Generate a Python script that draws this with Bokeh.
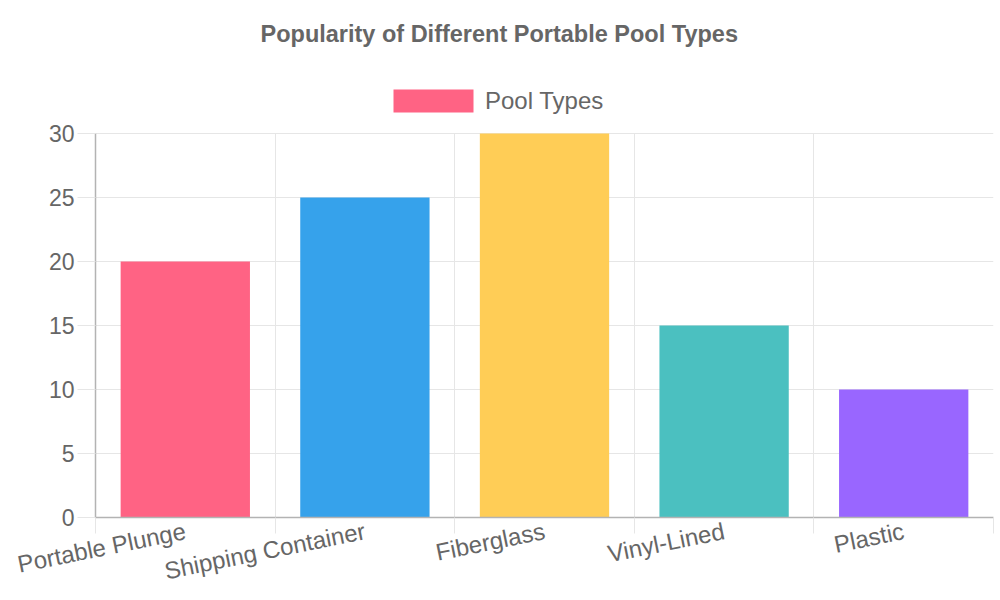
from bokeh.plotting import figure
from bokeh.models import (ColumnDataSource, Range1d, FixedTicker, Legend, LegendItem)
from bokeh.embed import file_html
from bokeh.resources import INLINE

categories = ["Portable Plunge", "Shipping Container", "Fiberglass", "Vinyl-Lined", "Plastic"]
values = [20, 25, 30, 15, 10]
colors = ["#ff6384", "#36a2eb", "#ffcd56", "#4bc0c0", "#9966ff"]
series_name = "Pool Types"
title_text = "Popularity of Different Portable Pool Types"
y_ticks = [0, 5, 10, 15, 20, 25, 30]
y_max = 30

FONT = "Liberation Sans"
TXT = "#666666"
GRID = "#e6e6e6"
AXIS = "#b3b3b3"

# layout constants (pixels)
TOP = 65          # frame top
PLOT_TOP = 133    # pixel row of y = y_max
PLOT_BOTTOM = 517
px_per_unit = (PLOT_BOTTOM - PLOT_TOP) / y_max
y_end = y_max + (PLOT_TOP - TOP) / px_per_unit

xs = list(range(len(categories)))
src = ColumnDataSource(dict(x=xs, top=values, color=colors, name=categories))

p = figure(width=1000, height=600, output_backend="svg", toolbar_location=None,
           x_range=Range1d(-0.5, len(categories) - 0.5), y_range=Range1d(0, y_end),
           min_border_left=95, min_border_right=7, min_border_bottom=600 - PLOT_BOTTOM,
           min_border_top=TOP)
p.title.text = title_text
p.title.align = "left"
p.title.offset = 165
p.title.text_font = FONT
p.title.text_font_size = "23.5px"
p.title.text_font_style = "bold"
p.title.text_color = TXT
p.title.standoff = 37
p.outline_line_color = None
p.background_fill_color = "white"
p.border_fill_color = "white"

r = p.vbar(x="x", top="top", bottom=0, width=0.72, fill_color="color",
           line_color=None, source=src)

# x axis: labels at category centers, tick marks at category boundaries
bounds = [i - 0.5 for i in range(len(categories) + 1)]
p.xaxis.ticker = FixedTicker(ticks=xs, minor_ticks=bounds)
p.xaxis.major_label_overrides = {i: c for i, c in zip(xs, categories)}
p.xaxis.major_tick_out = 0
p.xaxis.major_tick_in = 0
p.xaxis.minor_tick_out = 16
p.xaxis.minor_tick_in = 0
p.xaxis.minor_tick_line_color = GRID
p.xaxis.axis_line_color = AXIS
p.xaxis.axis_line_width = 1.5
p.xaxis.major_label_orientation = 0.2
p.xaxis.major_label_standoff = -3
p.xaxis.major_label_text_font = FONT
p.xaxis.major_label_text_font_size = "24px"
p.xaxis.major_label_text_color = TXT

p.xgrid.ticker = FixedTicker(ticks=bounds)
p.xgrid.grid_line_color = GRID
p.xgrid.cross_bounds = (0, y_max)

p.yaxis.ticker = FixedTicker(ticks=y_ticks)
p.yaxis.bounds = (0, y_max)
p.yaxis.minor_tick_line_color = None
p.yaxis.major_tick_out = 18
p.yaxis.major_tick_in = 0
p.yaxis.major_tick_line_color = GRID
p.yaxis.axis_line_color = AXIS
p.yaxis.axis_line_width = 1.5
p.yaxis.major_label_standoff = 3
p.yaxis.major_label_text_font = FONT
p.yaxis.major_label_text_font_size = "23px"
p.yaxis.major_label_text_color = TXT
p.ygrid.grid_line_color = GRID

legend = Legend(items=[LegendItem(label=series_name, renderers=[r], index=0)],
                orientation="horizontal", location=(288, PLOT_BOTTOM - 115),
                glyph_width=100, glyph_height=29, label_standoff=2,
                label_text_font=FONT, label_text_font_size="24px",
                label_text_color=TXT, label_height=29,
                padding=0, margin=0, border_line_color=None,
                background_fill_alpha=0)
p.add_layout(legend, "center")

open("out.html", "w").write(file_html(p, INLINE))
